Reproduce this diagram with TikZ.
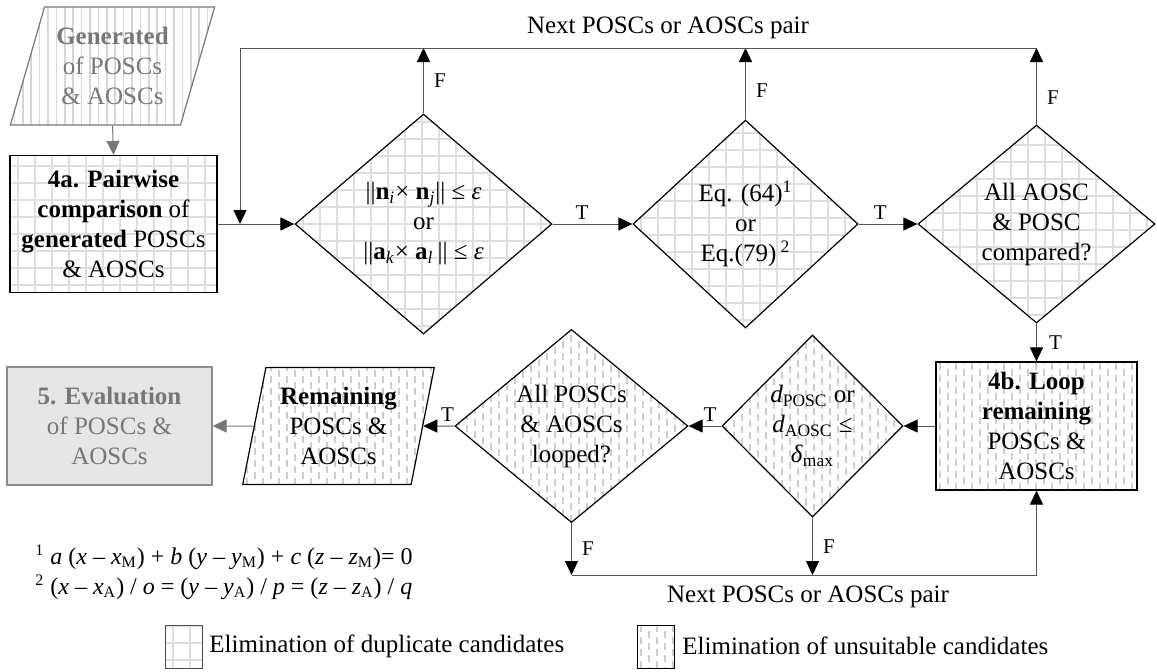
\documentclass[tikz,border=0pt]{standalone}
\usepackage{fontspec}
\setmainfont{Liberation Serif}
\usepackage{tikz}
\usetikzlibrary{positioning,arrows.meta,calc,shapes.geometric}

\definecolor{gridgray}{HTML}{DEDEDE}
\definecolor{dashgray}{HTML}{CDCDCD}
\definecolor{stripegray}{HTML}{D6D6D6}
\definecolor{txtgray}{HTML}{777777}
\definecolor{evalfill}{HTML}{E6E6E6}
\definecolor{linegray}{HTML}{555555}

\begin{document}
\begin{tikzpicture}[x=0.5pt, y=-0.5pt,
  base/.style={font=\fontsize{12.5}{15}\selectfont, align=center, inner sep=0pt},
  tf/.style={font=\fontsize{10.5}{12}\selectfont, inner sep=2pt},
  dupfill/.style={path picture={
    \foreach \k in {0,...,16} {
      \draw[gridgray, line width=1pt] ($(path picture bounding box.south west)+(\k*8.5pt+4pt,0pt)$) -- ++(0pt,130pt);
      \draw[gridgray, line width=1pt] ($(path picture bounding box.south west)+(0pt,\k*8.5pt+4pt)$) -- ++(140pt,0pt);
    }}},
  unsfill/.style={path picture={
    \foreach \k [evaluate=\k as \ph using {mod(\k,2)*3}] in {0,...,31} {
      \draw[dashgray, line width=0.8pt, dash pattern=on 3.5pt off 2.5pt, dash phase=\ph pt]
        ($(path picture bounding box.south west)+(\k*4pt+2pt,0pt)$) -- ++(0pt,120pt);
    }}},
  genfill/.style={path picture={
    \foreach \k in {0,...,26} {
      \draw[stripegray, line width=0.8pt] ($(path picture bounding box.south west)+(\k*4.2pt+2pt,0pt)$) -- ++(0pt,70pt);
    }}},
  dec/.style={base, diamond, draw, line width=0.6pt},
  proc/.style={base, rectangle, draw, line width=0.6pt},
  io/.style={base, trapezium, trapezium stretches=true, draw, line width=0.6pt},
  arr/.style={-{Triangle[length=7pt,width=6.5pt,color=black]}, draw=linegray, line width=0.5pt},
  garr/.style={-{Triangle[length=7pt,width=6.5pt,color=txtgray]}, draw=txtgray, line width=0.5pt},
  line/.style={draw=linegray, line width=0.5pt}]
\useasboundingbox (0,0) rectangle (1157,671);

% input and first step
\node[io, genfill, draw=txtgray, text=txtgray, trapezium left angle=70, trapezium right angle=110,
  minimum width=102.5pt, minimum height=59pt] (gen) at (112.5,66)
  {\textbf{Generated}\\ of POSCs\\ \& AOSCs};
\node[proc, dupfill, minimum width=103.5pt, minimum height=68.5pt] (a4) at (113.5,224)
  {\textbf{4a. Pairwise}\\ \textbf{comparison} of\\ \textbf{generated} POSCs\\ \& AOSCs};

% duplicate checks
\node[dec, dupfill, minimum width=128.5pt, minimum height=110pt] (d1) at (423.5,224)
  {||\textbf{n}\textsubscript{\textit{i}}× \textbf{n}\textsubscript{\textit{j}}|| ≤ \textit{ε}\\ or\\
   ||\textbf{a}\textsubscript{\textit{k}}× \textbf{a}\textsubscript{\textit{l}}\,|| ≤ \textit{ε}};
\node[dec, dupfill, minimum width=112.5pt, minimum height=104pt] (d2) at (745.5,224)
  {Eq. (64)\textsuperscript{1}\\ or\\ Eq.(79)\,\textsuperscript{2}};
\node[dec, dupfill, minimum width=118.5pt, minimum height=99pt] (d3) at (1036.5,224)
  {All AOSC\\ \& POSC\\ compared?};

% unsuitable checks
\node[proc, unsfill, minimum width=100.5pt, minimum height=64pt] (b4) at (1036.5,426)
  {\textbf{4b. Loop}\\ \textbf{remaining}\\ POSCs \&\\ AOSCs};
\node[dec, unsfill, minimum width=90.5pt, minimum height=91pt] (d4) at (812.5,426)
  {\textit{d}\textsubscript{POSC} or\\ \textit{d}\textsubscript{AOSC} ≤\\ \textit{δ}\textsubscript{max}};
\node[dec, unsfill, minimum width=116.5pt, minimum height=96pt] (d5) at (571.5,426)
  {All POSCs\\ \& AOSCs\\ looped?};
\node[io, unsfill, trapezium left angle=76.5, trapezium right angle=103.5,
  minimum width=96.5pt, minimum height=58.5pt] (rem) at (338.5,426)
  {\textbf{Remaining}\\ POSCs \&\\ AOSCs};
\node[proc, fill=evalfill, draw=black!45, text=txtgray, minimum width=102.5pt, minimum height=59pt] (ev) at (109.5,426)
  {\textbf{5. Evaluation}\\ of POSCs \&\\ AOSCs};

% connectors
\draw[garr] (gen.south) -- (a4.north);
\draw[arr] (a4.east) -- (d1.west);
\draw[arr] (d1.east) -- node[tf, above, pos=0.37]{T} (d2.west);
\draw[arr] (d2.east) -- node[tf, above, pos=0.37]{T} (d3.west);
\draw[arr] (d3.south) -- node[tf, right, xshift=4pt]{T} (b4.north);
\draw[arr] (b4.west) -- (d4.east);
\draw[arr] (d4.west) -- node[tf, above, pos=0.35]{T} (d5.east);
\draw[arr] (d5.west) -- node[tf, above, pos=0.22]{T} (rem.east);
\draw[garr] (rem.west) -- (ev.east);

% loop back on top
\coordinate (tl) at (240,48);
\draw[arr] (d1.north) -- node[tf, right, xshift=3pt]{F} (d1.north |- tl);
\draw[arr] (d2.north) -- node[tf, right, xshift=3pt, pos=0.4]{F} (d2.north |- tl);
\draw[arr] (d3.north) -- node[tf, right, xshift=3pt, pos=0.35]{F} (d3.north |- tl);
\draw[line] (d3.north |- tl) -- (tl);
\draw[arr] (tl) -- (tl |- a4.east);
\node[base] (nxtA) at (668,28) {Next POSCs or AOSCs pair};

% loop back at the bottom
\coordinate (bl) at (571.5,575);
\draw[arr] (d5.south) -- node[tf, right, xshift=3pt]{F} (bl);
\draw[arr] (d4.south) -- node[tf, right, xshift=3pt]{F} (d4.south |- bl);
\draw[arr] (bl) -- (b4.south |- bl) -- (b4.south);
\node[base] (nxtB) at (808,597) {Next POSCs or AOSCs pair};

% footnotes
\node[base, anchor=west, font=\fontsize{12}{14}\selectfont] (eqA) at (35,557)
  {\textsuperscript{1} \textit{a} (\textit{x} – \textit{x}\textsubscript{M}) + \textit{b} (\textit{y} – \textit{y}\textsubscript{M}) + \textit{c} (\textit{z} – \textit{z}\textsubscript{M})= 0};
\node[base, anchor=west, font=\fontsize{12}{14}\selectfont] (eqB) at (35,587)
  {\textsuperscript{2} (\textit{x} – \textit{x}\textsubscript{A}) / \textit{o} = (\textit{y} – \textit{y}\textsubscript{A}) / \textit{p} = (\textit{z} – \textit{z}\textsubscript{A}) / \textit{q}};

% legend
\node[proc, dupfill, draw=black!70, line width=0.5pt, minimum width=18.5pt, minimum height=21.5pt] (legA) at (183.5,646.5) {};
\node[base, anchor=west] (legAt) at (209,646) {Elimination of duplicate candidates};
\node[proc, unsfill, line width=0.5pt, minimum width=18.5pt, minimum height=21.5pt] (legB) at (655.5,646.5) {};
\node[base, anchor=west] (legBt) at (682,646) {Elimination of unsuitable candidates};
\end{tikzpicture}
\end{document}
